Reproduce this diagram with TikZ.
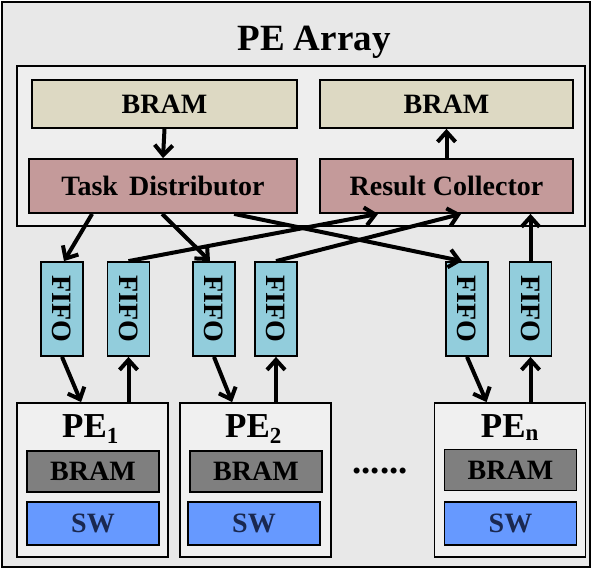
\documentclass[tikz,border=0pt]{standalone}
\usepackage{fontspec}
\setmainfont{Liberation Serif}
\usetikzlibrary{arrows.meta,calc}
\definecolor{bgc}{HTML}{E8E8E8}
\definecolor{ctrlc}{HTML}{EEEEEE}
\definecolor{pec}{HTML}{F0F0F0}
\definecolor{tanc}{HTML}{DDD9C3}
\definecolor{rosec}{HTML}{C49A9A}
\definecolor{fifoc}{HTML}{92CDDC}
\definecolor{grayc}{HTML}{7F7F7F}
\definecolor{swc}{HTML}{6699FF}
\definecolor{navyc}{HTML}{1A2850}
\tikzset{
  box/.style={draw=black, line width=1.8pt, inner sep=0pt, font=\fontsize{28}{30}\selectfont\bfseries},
  fifobox/.style={box, fill=fifoc, minimum width=42pt, minimum height=94pt},
  pebox/.style={box, fill=pec, minimum width=151pt, minimum height=154pt},
  brambox/.style={box, fill=grayc, minimum width=132pt, minimum height=41pt},
  swbox/.style={box, fill=swc, minimum width=132pt, minimum height=43pt, text=navyc},
  arr/.style={line width=4pt, -{Straight Barb[length=10pt,width=18pt,line width=4pt]}},
  fifotext/.style={rotate=-90, font=\fontsize{28}{30}\selectfont\bfseries, inner sep=0pt},
  petext/.style={font=\fontsize{35}{36}\selectfont\bfseries, inner sep=0pt, anchor=base}
}
\begin{document}
\begin{tikzpicture}[x=1pt, y=-1pt]
\useasboundingbox (0,0) rectangle (594,570);
\node[draw=black, line width=2pt, fill=bgc, minimum width=588pt, minimum height=565pt, inner sep=0pt] (outer) at (296,284.5) {};
\node[font=\fontsize{37}{40}\selectfont\bfseries, anchor=base, inner sep=0pt] (title) at (314,50) {PE Array};
\node[box, fill=ctrlc, minimum width=568pt, minimum height=160pt] (ctrl) at (301,146) {};
\node[box, fill=tanc, minimum width=265pt, minimum height=48pt] (bramL) at (164.5,104) {BRAM};
\node[box, fill=tanc, minimum width=253pt, minimum height=48pt] (bramR) at (446.5,104) {BRAM};
\node[box, fill=rosec, minimum width=268pt, minimum height=54pt] (td) at (163,186) {Task\hspace{0.4em}Distributor};
\node[box, fill=rosec, minimum width=253pt, minimum height=54pt] (rc) at (446.5,186) {Result Collector};
% FIFOs
\foreach \n/\x in {f1/62, f2/128.5, f3/214, f4/276, f5/467, f6/530.5}{
  \node[fifobox] (\n) at (\x,309) {};
  \node[fifotext] at (\n.center) {FIFO};
}
% PE boxes
\node[pebox] (pe1) at (92.5,480) {};
\node[pebox] (pe2) at (255.5,480) {};
\node[pebox] (pen) at (510,480) {};
\node[petext] (l1) at ($(pe1.north)+(-2,35)$) {PE\textsubscript{\fontsize{23}{24}\selectfont 1}};
\node[petext] (l2) at ($(pe2.north)+(-2,35)$) {PE\textsubscript{\fontsize{23}{24}\selectfont 2}};
\node[petext] (ln) at ($(pen.north)+(0,35)$) {PE\textsubscript{\fontsize{23}{24}\selectfont n}};
\node[brambox] (b1) at (93,471.5) {BRAM};
\node[brambox] (b2) at (256,471.5) {BRAM};
\node[brambox] (bn) at (510.5,470) {BRAM};
\node[swbox] (s1) at (93,523.5) {SW};
\node[swbox] (s2) at (254,523.5) {SW};
\node[swbox] (sn) at (510.5,523.5) {SW};
\node[font=\fontsize{37}{40}\selectfont\bfseries, inner sep=0pt] (dots) at (380,471) {......};
% top arrows
\draw[arr] (bramL.south) -- (td.north);
\draw[arr] (rc.north) -- (rc.north |- bramR.south);
\draw[arr] ($(td.south west)+(64,0)$) -- ($(f1.north)+(2,0)$);
\draw[arr] ($(td.south west)+(134,0)$) -- ($(f3.north)+(-4,0)$);
\draw[arr] ($(td.south west)+(206,0)$) -- ($(f5.north)+(-5,0)$);
\draw[arr] (f2.north) -- ($(rc.south west)+(59,0)$);
\draw[arr] (f4.north) -- ($(rc.south west)+(142,0)$);
\draw[arr] (f6.north) -- (f6.north |- rc.south);
% bottom arrows
\draw[arr] (f1.south) -- ($(pe1.north west)+(65,0)$);
\draw[arr] (f2.south |- pe1.north) -- (f2.south);
\draw[arr] (f3.south) -- ($(pe2.north west)+(53,0)$);
\draw[arr] (f4.south |- pe2.north) -- (f4.south);
\draw[arr] (f5.south) -- ($(pen.north west)+(53,0)$);
\draw[arr] (f6.south |- pen.north) -- (f6.south);
\end{tikzpicture}
\end{document}
